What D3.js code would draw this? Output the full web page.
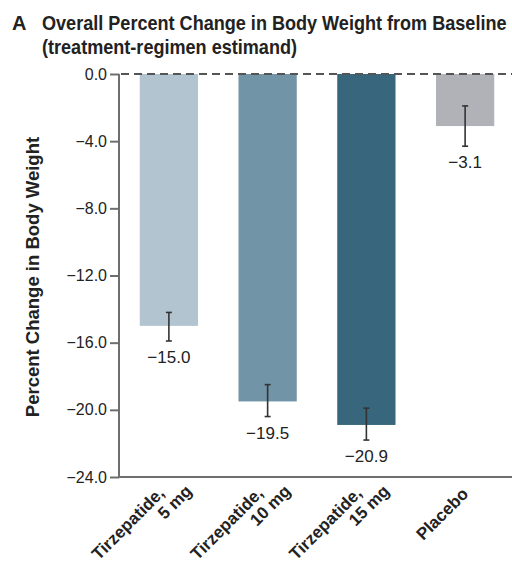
<!DOCTYPE html>
<html lang="en">

<head>
  <meta charset="UTF-8">
  <title>Body Weight Change</title>
  <style>
    body {
      margin: 0;
      background: #fff;
    }

    svg {
      display: block;
      font-family: "Liberation Sans", Arial, sans-serif;
    }

    .title {
      font-weight: bold;
      font-size: 20px;
      fill: #222;
    }

    .axis-title {
      font-weight: bold;
      font-size: 18.5px;
      fill: #222;
    }

    .tick-label {
      font-size: 16px;
      fill: #222;
    }

    .value-label {
      font-size: 17px;
      fill: #222;
    }

    .cat-label {
      font-size: 17px;
      font-weight: bold;
      fill: #222;
    }

    .axis-line {
      stroke: #6e6e6e;
      stroke-width: 2;
      fill: none;
    }

    .zero-line {
      stroke: #555;
      stroke-width: 2;
      stroke-dasharray: 8 5;
    }

    .err {
      stroke: #333;
      stroke-width: 1.6;
    }
  </style>
</head>

<body>
  <div id="chart"></div>

  <script src="https://d3js.org/d3.v7.min.js"></script>

  <script>
    // data
    const categories = ['Tirzepatide, 5 mg', 'Tirzepatide, 10 mg', 'Tirzepatide, 15 mg', 'Placebo'];
    const labelLines = [['Tirzepatide,', '5 mg'], ['Tirzepatide,', '10 mg'], ['Tirzepatide,', '15 mg'], ['Placebo']];
    const values = [-15.0, -19.5, -20.9, -3.1];
    const ciLow = [-15.9, -20.4, -21.8, -4.3];
    const ciHigh = [-14.2, -18.5, -19.9, -1.9];
    const colors = ['#b2c4d0', '#7294a7', '#37667d', '#b1b2b7'];
    const yTicks = [0, -4, -8, -12, -16, -20, -24];

    const width = 512;
    const height = 566;

    const rows = categories.map((c, i) => ({
      cat: c,
      lines: labelLines[i],
      value: values[i],
      lo: ciLow[i],
      hi: ciHigh[i],
      color: colors[i]
    }));

    const y = d3.scaleLinear()
      .domain([-24, 0])
      .range([477, 74]);

    const x = d3.scaleBand()
      .domain(categories)
      .range([120, 514])
      .paddingInner(0.41)
      .paddingOuter(0.2);

    const fmt = d3.format('.1f');

    const svg = d3.select('#chart')
      .append('svg')
      .attr('width', width)
      .attr('height', height);

    // title (squeezed horizontally to mimic the condensed journal face)
    svg.append('text').attr('class', 'title').attr('x', 12).attr('y', 30).text('A');
    const gt = svg.append('g');
    const t1 = gt.append('text').attr('class', 'title').attr('x', 0).attr('y', 30)
      .text('Overall Percent Change in Body Weight from Baseline');
    gt.append('text').attr('class', 'title').attr('x', 0).attr('y', 54)
      .text('(treatment-regimen estimand)');
    const sx = Math.min(1, 465 / t1.node().getComputedTextLength());
    gt.attr('transform', `translate(42,0) scale(${sx},1)`);

    // bars
    svg.append('g')
      .selectAll('rect')
      .data(rows)
      .enter()
      .append('rect')
      .attr('x', d => x(d.cat))
      .attr('y', y(0))
      .attr('width', x.bandwidth())
      .attr('height', d => y(d.value) - y(0))
      .attr('fill', d => d.color);

    // error bars
    const gerr = svg.append('g');
    rows.forEach(d => {
      const cx = x(d.cat) + x.bandwidth() / 2;
      gerr.append('line').attr('class', 'err')
        .attr('x1', cx).attr('x2', cx)
        .attr('y1', y(d.hi)).attr('y2', y(d.lo));
      [d.hi, d.lo].forEach(v => {
        gerr.append('line').attr('class', 'err')
          .attr('x1', cx - 3).attr('x2', cx + 3)
          .attr('y1', y(v)).attr('y2', y(v));
      });
      gerr.append('text').attr('class', 'value-label')
        .attr('x', cx)
        .attr('y', y(d.lo) + 22)
        .attr('text-anchor', 'middle')
        .text(fmt(d.value));
    });

    // zero dashed line
    svg.append('line').attr('class', 'zero-line')
      .attr('x1', 121).attr('x2', width)
      .attr('y1', y(0)).attr('y2', y(0));

    // y axis
    const yAxis = d3.axisLeft(y)
      .tickValues(yTicks)
      .tickSize(9)
      .tickPadding(3)
      .tickFormat(fmt);

    const gy = svg.append('g')
      .attr('transform', 'translate(119,0)')
      .call(yAxis);
    gy.select('.domain').attr('class', 'axis-line').attr('d', `M0,${y(0)}V${y(-24)}`);
    gy.selectAll('.tick line').attr('stroke', '#6e6e6e').attr('stroke-width', 2);
    gy.selectAll('.tick text').attr('class', 'tick-label').attr('fill', null);
    gy.attr('font-family', null).attr('font-size', null);

    // x axis line
    svg.append('line').attr('class', 'axis-line')
      .attr('x1', 118).attr('x2', width)
      .attr('y1', y(-24)).attr('y2', y(-24));

    // rotated category labels
    const glab = svg.append('g');
    rows.forEach(d => {
      const cx = x(d.cat) + x.bandwidth() / 2;
      const g = glab.append('g')
        .attr('transform', `translate(${cx},478) rotate(-45)`);
      if (d.lines.length === 2) {
        g.append('text').attr('class', 'cat-label')
          .attr('text-anchor', 'end').attr('x', -14).attr('y', 9).text(d.lines[0]);
        g.append('text').attr('class', 'cat-label')
          .attr('text-anchor', 'end').attr('x', 7).attr('y', 27).text(d.lines[1]);
      } else {
        g.append('text').attr('class', 'cat-label')
          .attr('text-anchor', 'end').attr('x', -9).attr('y', 15).text(d.lines[0]);
      }
    });

    // y axis title
    svg.append('text').attr('class', 'axis-title')
      .attr('transform', 'translate(39,277) rotate(-90)')
      .attr('text-anchor', 'middle')
      .text('Percent Change in Body Weight');
  </script>
</body>

</html>
